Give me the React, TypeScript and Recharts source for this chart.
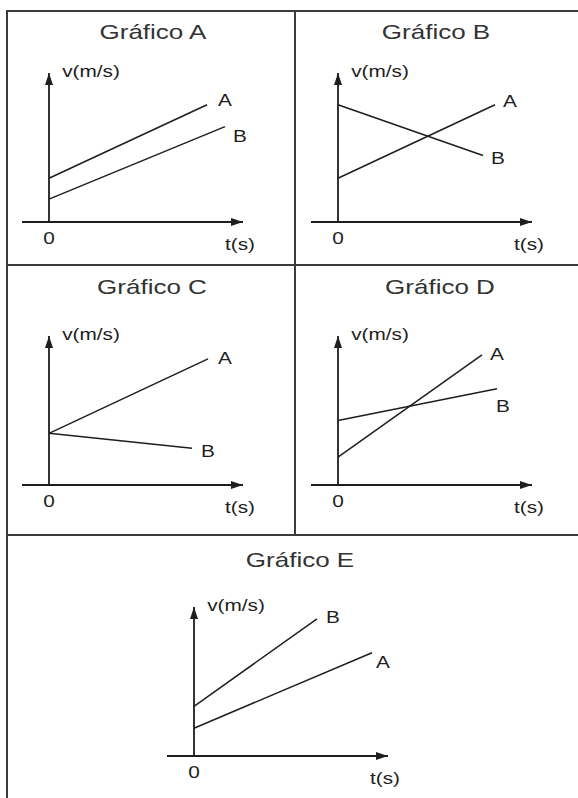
import React from 'react';
import { LineChart, Line, XAxis, YAxis, ReferenceLine, ReferenceDot } from 'recharts';

// shared axis ranges (t in s, v in m/s, schematic units)
const T_DOMAIN: [number, number] = [-2.7, 19.4];
const V_DOMAIN: [number, number] = [0, 15];

// Gráfico A
const graficoA_A = [{ t: 0, v: 4.4 }, { t: 15.8, v: 11.8 }];
const graficoA_B = [{ t: 0, v: 2.3 }, { t: 17.6, v: 9.6 }];
// Gráfico B
const graficoB_A = [{ t: 0, v: 4.4 }, { t: 15.7, v: 11.8 }];
const graficoB_B = [{ t: 0, v: 11.8 }, { t: 14.5, v: 6.7 }];
// Gráfico C
const graficoC_A = [{ t: 0, v: 5.2 }, { t: 15.9, v: 12.7 }];
const graficoC_B = [{ t: 0, v: 5.2 }, { t: 14.3, v: 3.7 }];
// Gráfico D
const graficoD_A = [{ t: 0, v: 2.8 }, { t: 14.4, v: 13.1 }];
const graficoD_B = [{ t: 0, v: 6.5 }, { t: 15.9, v: 9.7 }];
// Gráfico E
const graficoE_B = [{ t: 0, v: 5.0 }, { t: 12.3, v: 13.8 }];
const graficoE_A = [{ t: 0, v: 2.8 }, { t: 17.8, v: 10.4 }];

const PLOT_W = 221;
const PLOT_H = 149;
const MARGIN = { top: 30, right: 40, bottom: 40, left: 10 };
const INK = '#1e1e1e';
const FONT = '"Liberation Sans", Arial, Helvetica, sans-serif';

type Pt = { t: number; v: number };
type Series = { name: string; data: Pt[]; dx: number; dy: number };
type Panel = { title: string; titleX: number; titleY: number; plotLeft: number; plotTop: number; series: Series[] };

const panels: Panel[] = [
  {
    title: 'Gráfico A', titleX: 153, titleY: 32, plotLeft: 22, plotTop: 73,
    series: [
      { name: 'A', data: graficoA_A, dx: 18, dy: -4 },
      { name: 'B', data: graficoA_B, dx: 15, dy: 10 },
    ],
  },
  {
    title: 'Gráfico B', titleX: 436, titleY: 32, plotLeft: 311, plotTop: 73,
    series: [
      { name: 'A', data: graficoB_A, dx: 15, dy: -3 },
      { name: 'B', data: graficoB_B, dx: 15, dy: 3 },
    ],
  },
  {
    title: 'Gráfico C', titleX: 152, titleY: 287, plotLeft: 22, plotTop: 336,
    series: [
      { name: 'A', data: graficoC_A, dx: 17, dy: 0 },
      { name: 'B', data: graficoC_B, dx: 16, dy: 3 },
    ],
  },
  {
    title: 'Gráfico D', titleX: 440, titleY: 287, plotLeft: 311, plotTop: 336,
    series: [
      { name: 'A', data: graficoD_A, dx: 15, dy: 0 },
      { name: 'B', data: graficoD_B, dx: 6, dy: 18 },
    ],
  },
  {
    title: 'Gráfico E', titleX: 300, titleY: 560, plotLeft: 167, plotTop: 607,
    series: [
      { name: 'B', data: graficoE_B, dx: 16, dy: -2 },
      { name: 'A', data: graficoE_A, dx: 11, dy: 10 },
    ],
  },
];

// the scanned lettering is wider than Arial, so stretch it horizontally
const Stretch = ({ x, y, size = 16, fill = INK, children }: any) => (
  <text
    transform={`translate(${x},${y}) scale(1.3,1)`}
    textAnchor="middle"
    dominantBaseline="central"
    fontFamily={FONT}
    fontSize={size}
    fill={fill}
  >
    {children}
  </text>
);

// axis line with an arrowhead and its unit label at the tip
const AxisArrow = ({ x1, y1, x2, y2, horizontal }: any) => {
  const head = horizontal
    ? `${x2},${y2} ${x2 - 12},${y2 - 4} ${x2 - 12},${y2 + 4}`
    : `${x2},${y2} ${x2 - 4},${y2 + 12} ${x2 + 4},${y2 + 12}`;
  return (
    <g>
      <line x1={x1} y1={y1} x2={x2} y2={y2} stroke={INK} strokeWidth={1.8} />
      <polygon points={head} fill={INK} />
      {horizontal
        ? <Stretch x={x2 - 3} y={y2 + 22}>t(s)</Stretch>
        : <Stretch x={x2 + 42} y={y2 - 2}>v(m/s)</Stretch>}
    </g>
  );
};

function Grafico({ panel }: { panel: Panel }) {
  const width = PLOT_W + MARGIN.left + MARGIN.right;
  const height = PLOT_H + MARGIN.top + MARGIN.bottom;
  return (
    <div style={{ position: 'absolute', left: panel.plotLeft - MARGIN.left, top: panel.plotTop - MARGIN.top }}>
      <LineChart width={width} height={height} margin={MARGIN}>
        <XAxis type="number" dataKey="t" domain={T_DOMAIN} hide allowDataOverflow />
        <YAxis type="number" dataKey="v" domain={V_DOMAIN} hide allowDataOverflow />
        <ReferenceLine
          segment={[{ x: T_DOMAIN[0], y: 0 }, { x: T_DOMAIN[1], y: 0 }]}
          ifOverflow="visible"
          shape={(p: any) => <AxisArrow {...p} horizontal />}
        />
        <ReferenceLine
          segment={[{ x: 0, y: 0 }, { x: 0, y: V_DOMAIN[1] }]}
          ifOverflow="visible"
          shape={(p: any) => <AxisArrow {...p} horizontal={false} />}
        />
        <ReferenceDot
          x={0}
          y={0}
          r={0}
          ifOverflow="visible"
          shape={(p: any) => <Stretch x={p.cx} y={p.cy + 16}>0</Stretch>}
        />
        {panel.series.map((s) => (
          <Line
            key={s.name}
            data={s.data}
            dataKey="v"
            type="linear"
            stroke={INK}
            strokeWidth={1.5}
            dot={false}
            activeDot={false}
            isAnimationActive={false}
          />
        ))}
        {panel.series.map((s) => {
          const end = s.data[s.data.length - 1];
          return (
            <ReferenceDot
              key={`lbl-${s.name}`}
              x={end.t}
              y={end.v}
              r={0}
              ifOverflow="visible"
              shape={(p: any) => <Stretch x={p.cx + s.dx} y={p.cy + s.dy}>{s.name}</Stretch>}
            />
          );
        })}
      </LineChart>
    </div>
  );
}

export default function App() {
  const frame = '#3c3c3c';
  return (
    <div style={{ position: 'absolute', left: 0, top: 0, width: 578, height: 798, background: '#fff', overflow: 'hidden' }}>
      <svg width={578} height={798} style={{ position: 'absolute', left: 0, top: 0 }}>
        <line x1={7} y1={11} x2={7} y2={798} stroke={frame} strokeWidth={2} />
        <line x1={6} y1={11} x2={578} y2={11} stroke={frame} strokeWidth={2} />
        <line x1={295} y1={11} x2={295} y2={535} stroke={frame} strokeWidth={2} />
        <line x1={6} y1={265} x2={578} y2={265} stroke={frame} strokeWidth={2} />
        <line x1={6} y1={535} x2={578} y2={535} stroke={frame} strokeWidth={2} />
        {panels.map((p) => (
          <Stretch key={p.title} x={p.titleX} y={p.titleY} size={20} fill="#333">{p.title}</Stretch>
        ))}
      </svg>
      {panels.map((p) => <Grafico key={p.title} panel={p} />)}
    </div>
  );
}
